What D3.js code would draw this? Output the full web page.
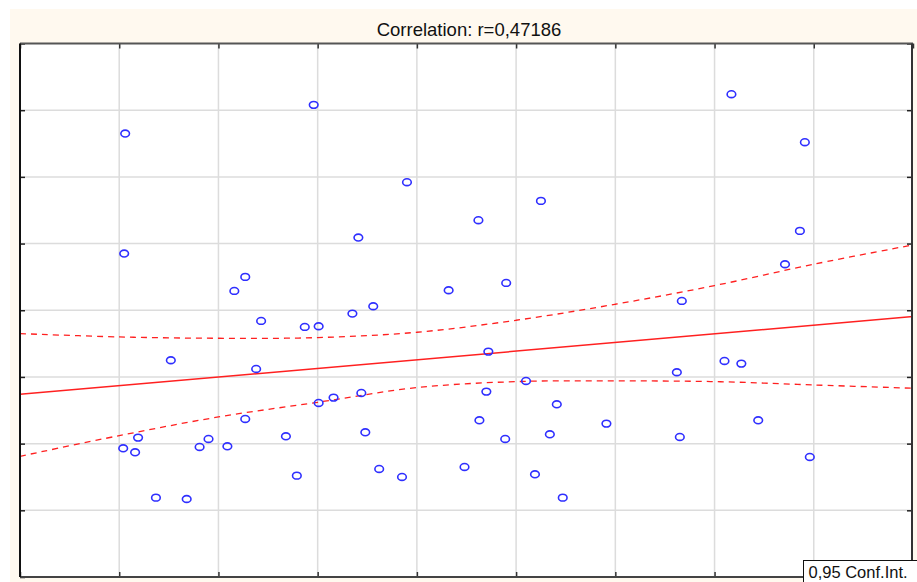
<!DOCTYPE html>
<html>
<head>
<meta charset="utf-8">
<script src="https://cdn.jsdelivr.net/npm/d3@7"></script>
<style>
  html, body { margin: 0; padding: 0; background: #ffffff; }
  svg { display: block; }
</style>
</head>
<body>
<svg id="chart" width="917" height="582"></svg>
<script>
// ---- Data ----
const titleText = "Correlation: r=0,47186";
const legendLabel = "0,95 Conf.Int.";

const xValues = [10.6, 29.6, 71.7, 79.1, 39.0, 52.5, 46.2, 78.6, 34.1, 10.5,
                 22.7, 77.1, 21.6, 43.2, 49.0, 35.6, 66.7, 33.5, 24.3, 28.7,
                 30.1, 47.2, 15.2, 71.0, 72.7, 23.8, 66.2, 51.0, 47.0, 34.4,
                 31.6, 30.1, 54.1, 22.7, 46.3, 74.4, 59.1, 11.9, 19.0, 26.8,
                 34.8, 53.4, 48.9, 66.5, 10.4, 11.6, 18.1, 20.9, 79.6, 36.2,
                 44.8, 27.9, 38.5, 51.9, 13.7, 16.8, 54.7];
const yValues = [66.5, 70.8, 72.4, 65.2, 59.2, 56.4, 53.5, 51.9, 50.9, 48.5,
                 45.0, 46.9, 42.9, 43.0, 44.1, 40.6, 41.4, 39.5, 38.4, 37.5,
                 37.6, 33.8, 32.5, 32.4, 32.0, 31.2, 30.7, 29.4, 27.8, 27.6,
                 26.9, 26.1, 25.9, 23.7, 23.5, 23.5, 23.0, 20.9, 20.7, 21.1,
                 21.7, 21.4, 20.7, 21.0, 19.3, 18.7, 19.5, 19.6, 18.0, 16.2,
                 16.5, 15.2, 15.0, 15.4, 11.9, 11.7, 11.9];

const xTicks = [0, 10, 20, 30, 40, 50, 60, 70, 80, 90];
const yTicks = [0, 10, 20, 30, 40, 50, 60, 70, 80];

const fitX = [0, 90];
const fitY = [27.4, 39.05];

const ciX = [0, 10, 20, 30, 40, 50, 60, 70, 80, 90];
const ciUpper = [36.5, 36.0, 35.8, 35.9, 36.7, 38.5, 40.9, 43.7, 46.9, 49.8];
const ciLower = [18.1, 21.2, 24.0, 26.2, 28.4, 29.3, 29.4, 29.3, 28.8, 28.3];

// ---- Drawing ----
const svg = d3.select("#chart");
const W = 917, H = 582;
const plot = { left: 20, top: 43.5, right: 913, bottom: 577 };

svg.append("rect").attr("x", 0).attr("y", 0).attr("width", W).attr("height", H).attr("fill", "#ffffff");
svg.append("rect").attr("x", 10).attr("y", 9).attr("width", W - 10).attr("height", H - 9).attr("fill", "#fff9ef");

const x = d3.scaleLinear().domain([0, 90]).range([plot.left, plot.right]);
const y = d3.scaleLinear().domain([0, 80]).range([plot.bottom, plot.top]);

// plot background
svg.append("rect")
  .attr("x", plot.left).attr("y", plot.top)
  .attr("width", plot.right - plot.left).attr("height", plot.bottom - plot.top)
  .attr("fill", "#ffffff");

const defs = svg.append("defs");
defs.append("clipPath").attr("id", "clip")
  .append("rect")
  .attr("x", plot.left).attr("y", plot.top)
  .attr("width", plot.right - plot.left).attr("height", plot.bottom - plot.top);

// grid lines
const grid = svg.append("g").attr("clip-path", "url(#clip)");
grid.selectAll("line.vx").data(xTicks.slice(1, -1)).join("line")
  .attr("x1", d => x(d)).attr("x2", d => x(d))
  .attr("y1", plot.top).attr("y2", plot.bottom)
  .attr("stroke", "#dcdcdc").attr("stroke-width", 1.5);
grid.selectAll("line.hy").data(yTicks.slice(1, -1)).join("line")
  .attr("x1", plot.left).attr("x2", plot.right)
  .attr("y1", d => y(d)).attr("y2", d => y(d))
  .attr("stroke", "#dcdcdc").attr("stroke-width", 1.5);

// axes (ticks inside, no labels)
const tickLen = 5;
const axBottom = d3.axisBottom(x).tickValues(xTicks).tickSize(-tickLen).tickFormat("");
const axTop = d3.axisTop(x).tickValues(xTicks).tickSize(-tickLen).tickFormat("");
const axLeft = d3.axisLeft(y).tickValues(yTicks).tickSize(-tickLen).tickFormat("");
const axRight = d3.axisRight(y).tickValues(yTicks).tickSize(-tickLen).tickFormat("");

function styleAxis(g, color) {
  g.select(".domain").remove();
  g.selectAll(".tick line").attr("stroke", color).attr("stroke-width", 1.5);
}
svg.append("g").attr("transform", `translate(0,${plot.bottom})`).call(axBottom).call(g => styleAxis(g, "#333"));
svg.append("g").attr("transform", `translate(0,${plot.top})`).call(axTop).call(g => styleAxis(g, "#333"));
svg.append("g").attr("transform", `translate(${plot.left},0)`).call(axLeft).call(g => styleAxis(g, "#222"));
svg.append("g").attr("transform", `translate(${plot.right - 1},0)`).call(axRight).call(g => styleAxis(g, "#222"));

// confidence band lines and fit line
const lineGen = d3.line().x(d => x(d[0])).y(d => y(d[1])).curve(d3.curveCatmullRom.alpha(0.5));
const marks = svg.append("g").attr("clip-path", "url(#clip)");

marks.append("path")
  .datum(ciX.map((v, i) => [v, ciUpper[i]]))
  .attr("d", lineGen).attr("fill", "none")
  .attr("stroke", "#ff2020").attr("stroke-width", 1.3).attr("stroke-dasharray", "6,5");
marks.append("path")
  .datum(ciX.map((v, i) => [v, ciLower[i]]))
  .attr("d", lineGen).attr("fill", "none")
  .attr("stroke", "#ff2020").attr("stroke-width", 1.3).attr("stroke-dasharray", "6,5");
marks.append("path")
  .datum(fitX.map((v, i) => [v, fitY[i]]))
  .attr("d", d3.line().x(d => x(d[0])).y(d => y(d[1])))
  .attr("fill", "none").attr("stroke", "#ff2020").attr("stroke-width", 1.5);

// points
marks.selectAll("ellipse.pt").data(xValues.map((v, i) => [v, yValues[i]])).join("ellipse")
  .attr("class", "pt")
  .attr("cx", d => x(d[0])).attr("cy", d => y(d[1]))
  .attr("rx", 4.3).attr("ry", 3.4)
  .attr("fill", "none").attr("stroke", "#2f2fff").attr("stroke-width", 1.6);

// frame
svg.append("line").attr("x1", plot.left).attr("x2", plot.right).attr("y1", plot.top).attr("y2", plot.top)
  .attr("stroke", "#555").attr("stroke-width", 2);
svg.append("line").attr("x1", plot.left).attr("x2", plot.right).attr("y1", plot.bottom).attr("y2", plot.bottom)
  .attr("stroke", "#444").attr("stroke-width", 2);
svg.append("line").attr("x1", plot.left).attr("x2", plot.left).attr("y1", plot.top).attr("y2", plot.bottom)
  .attr("stroke", "#111").attr("stroke-width", 2);
svg.append("line").attr("x1", plot.right - 1).attr("x2", plot.right - 1).attr("y1", plot.top).attr("y2", plot.bottom)
  .attr("stroke", "#333").attr("stroke-width", 2);

// title
svg.append("text")
  .attr("x", 469).attr("y", 35.5)
  .attr("text-anchor", "middle")
  .attr("font-family", "Liberation Sans, Arial, sans-serif")
  .attr("font-size", 18.5)
  .attr("fill", "#111")
  .text(titleText);

// legend
const lg = svg.append("g");
lg.append("rect").attr("x", 803.5).attr("y", 560.5).attr("width", 130).attr("height", 40)
  .attr("fill", "#ffffff").attr("stroke", "#111").attr("stroke-width", 1);
lg.append("text").attr("x", 808.5).attr("y", 578)
  .attr("font-family", "Liberation Sans, Arial, sans-serif")
  .attr("font-size", 16.5).attr("fill", "#111")
  .text(legendLabel);
</script>
</body>
</html>
